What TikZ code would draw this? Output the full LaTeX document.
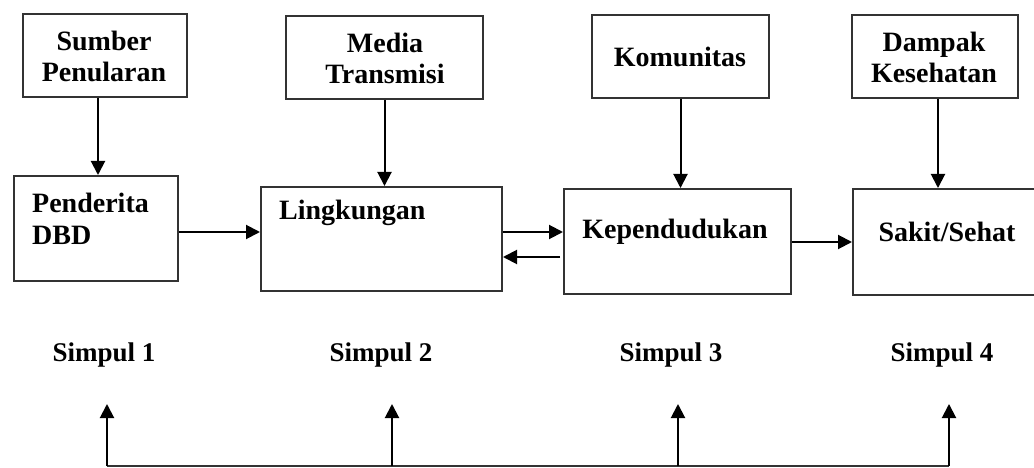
\documentclass[tikz,border=0pt]{standalone}
\usepackage{fontspec}
\setmainfont{Liberation Serif}
\usetikzlibrary{arrows.meta,calc}
\begin{document}
\begin{tikzpicture}[x=1pt,y=-1pt,
  box/.style={draw=black!80,line width=2pt,inner sep=0pt,anchor=north west},
  txt/.style={font=\fontsize{28}{31}\selectfont\bfseries,align=center,inner sep=0pt},
  ltxt/.style={font=\fontsize{28}{32}\selectfont\bfseries,align=left,inner sep=0pt,anchor=west},
  arr/.style={line width=2pt,-{Triangle[length=14pt,width=14pt]}},
  lnk/.style={line width=2pt,draw=black!80},
  lbl/.style={font=\fontsize{27}{30}\selectfont\bfseries,inner sep=0pt}]
\useasboundingbox (0,0) rectangle (1034,468);
\clip (0,0) rectangle (1034,468);
% top boxes
\node[box,minimum width=164pt,minimum height=83pt] (sumber) at (22,13) {};
\node[txt] (sumbert) at (104,56) {Sumber\\Penularan};
\node[box,minimum width=197pt,minimum height=83pt] (media) at (285,15) {};
\node[txt] (mediat) at (385,58) {Media\\Transmisi};
\node[box,minimum width=177pt,minimum height=83pt] (kom) at (591,14) {};
\node[txt] (komt) at (680,57) {Komunitas};
\node[box,minimum width=166pt,minimum height=83pt] (dampak) at (851,14) {};
\node[txt] (dampakt) at (934,57) {Dampak\\Kesehatan};
% main boxes
\node[box,minimum width=164pt,minimum height=105pt] (pend) at (13,175) {};
\node[ltxt] (pendt) at (32,219) {Penderita\\DBD};
\node[box,minimum width=241pt,minimum height=104pt] (ling) at (260,186) {};
\node[ltxt] (lingt) at (279,213) {Lingkungan};
\node[box,minimum width=227pt,minimum height=105pt] (kep) at (563,188) {};
\node[txt] (kept) at (675,232) {Kependudukan};
\node[box,minimum width=200pt,minimum height=106pt] (sakit) at (852,188) {};
\node[txt] (sakitt) at (947,232) {Sakit/Sehat};
% vertical arrows from top boxes
\draw[arr] ([xshift=-7pt]sumber.south) -- ([xshift=-7pt]sumber.south |- pend.north);
\draw[arr] (media.south) -- (media.south |- ling.north);
\draw[arr] (kom.south) -- (kom.south |- kep.north);
\draw[arr] ([xshift=3pt]dampak.south) -- ([xshift=3pt]dampak.south |- sakit.north);
% horizontal arrows
\coordinate (p1) at ($(pend.north east)+(0,57)$);
\draw[arr] (p1) -- (p1 -| ling.west);
\coordinate (r1) at ($(ling.north east)+(0,46)$);
\draw[arr] (r1) -- (r1 -| kep.west);
\coordinate (l1) at ($(kep.north west)+(-3,69)$);
\draw[arr] (l1) -- (l1 -| ling.east);
\coordinate (k1) at ($(kep.north east)+(0,54)$);
\draw[arr] (k1) -- (k1 -| sakit.west);
% simpul labels
\node[lbl] (s1) at (104,355) {Simpul 1};
\node[lbl] (s2) at (381,355) {Simpul 2};
\node[lbl] (s3) at (671,355) {Simpul 3};
\node[lbl] (s4) at (942,355) {Simpul 4};
% bottom connectors
\coordinate (b1) at (107,466);
\coordinate (b2) at (392,466);
\coordinate (b3) at (678,466);
\coordinate (b4) at (949,466);
\coordinate (t1) at (107,404);
\coordinate (t2) at (392,404);
\coordinate (t3) at (678,404);
\coordinate (t4) at (949,404);
\draw[lnk] (b1) -- (b4);
\draw[arr] (b1) -- (t1);
\draw[arr] (b2) -- (t2);
\draw[arr] (b3) -- (t3);
\draw[arr] (b4) -- (t4);
\end{tikzpicture}
\end{document}
